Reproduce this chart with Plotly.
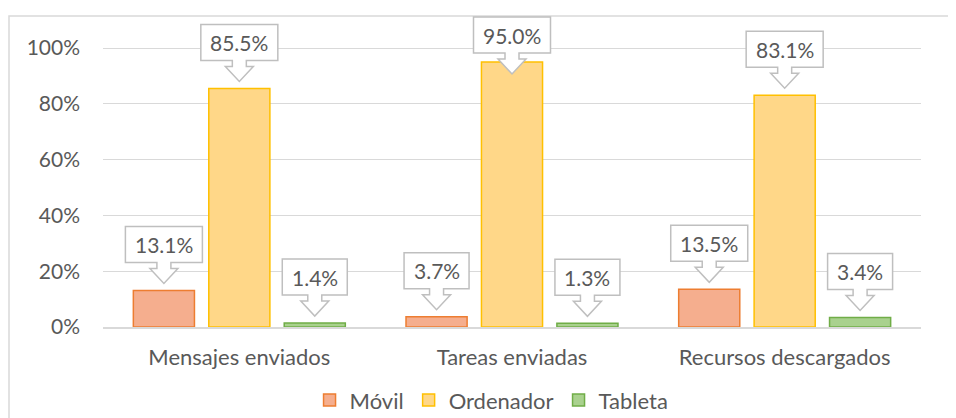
import plotly.graph_objects as go

CATEGORIES = ["Mensajes enviados", "Tareas enviadas", "Recursos descargados"]
SERIES = ["Móvil", "Ordenador", "Tableta"]
MOVIL = [0.131, 0.037, 0.135]
ORDENADOR = [0.855, 0.950, 0.831]
TABLETA = [0.014, 0.013, 0.034]

FILLS = ["#f5ae8e", "#ffd788", "#a9d18e"]
LINES = ["#ed7d31", "#ffc000", "#70ad47"]
TEXT = "#595959"
GRID = "#d9d9d9"
FONT = "Lato"

# the page body adds an 8px margin, so the figure is 8px smaller than the window
W, H = 948, 410
M_L, M_R, M_T, M_B = 95, 35, 1, 91
Y_MAX = 1.14
BARGAP = 0.17
PX_PER_UNIT = (H - M_T - M_B) / Y_MAX
TOP_LIMIT = H - M_B - 9  # px above zero the callout box may reach


def callout_path(w, s=0):
    """Box + block arrow in pixels relative to the bar top, moved down by s px."""
    h = w / 2
    pts = [(-h, 28), (-h, 64), (h, 64), (h, 28), (7, 28), (7, 22), (14, 22),
           (0, 7), (-14, 22), (-7, 22), (-7, 28)]
    return "M " + " L ".join(f"{x:.1f},{y - s:.1f}" for x, y in pts) + " Z"


fig = go.Figure()
slot = (1 - BARGAP) / len(SERIES)
for i, (name, vals) in enumerate(zip(SERIES, [MOVIL, ORDENADOR, TABLETA])):
    fig.add_trace(go.Bar(
        name=name, x=CATEGORIES, y=vals,
        marker=dict(color=FILLS[i], line=dict(color=LINES[i], width=1.5)),
    ))
    for j, v in enumerate(vals):
        label = f"{v * 100:.1f}%"
        w = 12 * len(label) + 17
        shift = max(0, v * PX_PER_UNIT + 64 - TOP_LIMIT)
        xa = j + (i - 1) * slot
        fig.add_shape(
            type="path", xref="x", yref="y", xsizemode="pixel", ysizemode="pixel",
            xanchor=xa, yanchor=v, path=callout_path(w, shift),
            fillcolor="white", line=dict(color="#bfbfbf", width=1.5), layer="above",
        )
        fig.add_annotation(
            x=xa, y=v, xref="x", yref="y", text=label, showarrow=False,
            yshift=46 - shift, font=dict(family=FONT, size=21, color=TEXT),
        )

# outer chart frame (right / bottom edges fall outside the picture)
fig.add_shape(type="rect", xref="paper", yref="paper",
              x0=(1 - M_L) / (W - M_L - M_R), x1=1.2,
              y0=-1, y1=(H - M_B - 8) / (H - M_T - M_B),
              line=dict(color=GRID, width=1.5), layer="below")

fig.update_layout(
    width=W, height=H,
    margin=dict(l=M_L, r=M_R, t=M_T, b=M_B, autoexpand=False),
    paper_bgcolor="white", plot_bgcolor="white",
    barmode="group", bargap=BARGAP, bargroupgap=0.19,
    font=dict(family=FONT, size=21, color=TEXT),
    showlegend=True,
    legend=dict(orientation="h", x=0.475, xanchor="center", y=-0.23, yanchor="middle",
                font=dict(size=22, color=TEXT), itemclick=False, itemwidth=30,
                tracegroupgap=0),
    xaxis=dict(showline=True, linecolor=GRID, linewidth=1.5, ticks="",
               ticklabelstandoff=10, tickfont=dict(size=22, color=TEXT)),
    yaxis=dict(range=[0, Y_MAX], dtick=0.2, tickformat=".0%", showgrid=True,
               gridcolor=GRID, gridwidth=1, zeroline=False, showline=False,
               ticklabelstandoff=22, tickfont=dict(size=21, color=TEXT)),
)

fig.write_html("out.html")
